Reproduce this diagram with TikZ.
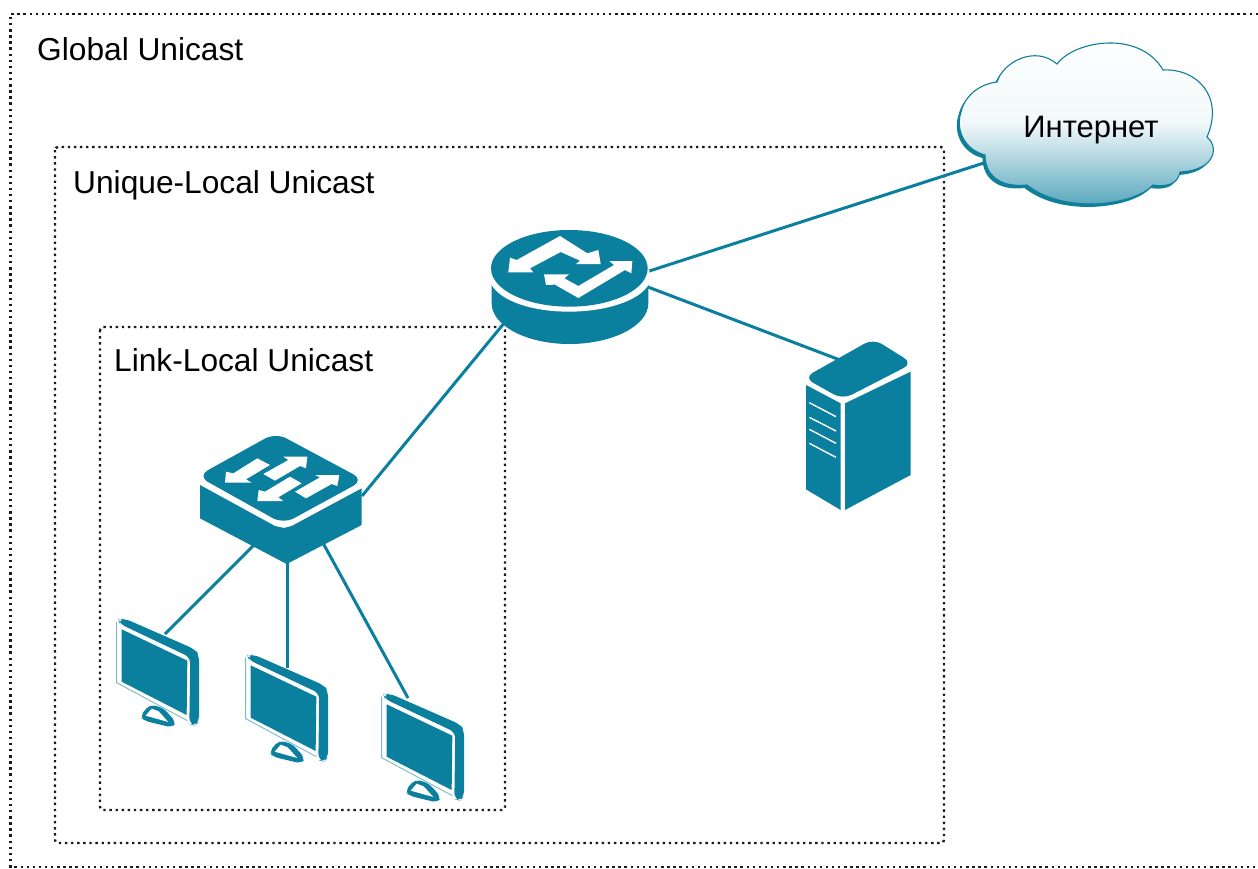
\documentclass[tikz,border=0pt]{standalone}
\usepackage{fontspec}
\setmainfont{Liberation Sans}
\definecolor{teal1}{HTML}{0A7F9E}
\definecolor{tealdark}{HTML}{0F7F9A}
\definecolor{frameink}{HTML}{1A1A1A}
\tikzset{
 x=1pt,y=-1pt,
 zone/.style={draw=frameink,line width=2.4pt,dash pattern=on 2.4pt off 3.7pt},
 zonelabel/.style={anchor=base west,font=\fontsize{31.7}{34}\selectfont,inner sep=0pt,text=black},
 link/.style={draw=teal1,line width=3pt},
 body/.style={fill=teal1,draw=none},
 warrow/.style={fill=white,draw=none},
 zoomed/.style={shift={(#1)},scale=0.33333},
 pics/monitor/.style={code={
  \begin{scope}[scale=0.33333]
  \fill[teal1,rounded corners=6pt] (55,28)--(75,26)--(285,118)--(297,135)--(297,335)--(285,347)--(268,342)--(271,142)--(60,42)--cycle;
  \draw[teal1!55,line width=.9pt] (50,35)--(50,218)--(262,332);
  \fill[teal1] (65,58)--(262,152)--(260,315)--(65,215)--cycle;
  \fill[teal1,rounded corners=5pt] (150,283)--(120,318)--(132,332)--(218,353)--(228,336)--(190,294)--cycle;
  \fill[white] (137,317)--(155,296)--(176,304)--(205,336)--cycle;
  \end{scope}
 }}
}
\begin{document}
\begin{tikzpicture}
\useasboundingbox (0,0) rectangle (1258,868);
\clip (0,0) rectangle (1258,868);
\fill[white] (0,0) rectangle (1258,868);
\coordinate (zoneAne) at (1258,14);
\coordinate (zoneAnw) at (10.5,14);
\coordinate (zoneAsw) at (10.5,867);
\coordinate (zoneAse) at (1258,867);
\draw[zone] (zoneAne)--(zoneAnw)--(zoneAsw)--(zoneAse);
\draw[zone,rounded corners=3pt] (55,147) rectangle (944,843);
\draw[zone,rounded corners=3pt] (100,327) rectangle (505,810);
\node[zonelabel] (lblA) at (37,60) {Global Unicast};
\node[zonelabel] (lblB) at (73,193) {Unique-Local Unicast};
\node[zonelabel] (lblC) at (114,371) {Link-Local Unicast};
% connector ends
\coordinate (routerA) at (640,274);
\coordinate (routerB) at (640,284);
\coordinate (routerC) at (505,322);
\coordinate (cloudA) at (990,161);
\coordinate (serverA) at (840,360);
\coordinate (switchA) at (362,496);
\coordinate (switchB) at (256,543);
\coordinate (switchC) at (287,560);
\coordinate (switchD) at (323,543);
\coordinate (m1) at (165,634);
\coordinate (m2) at (287,668);
\coordinate (m3) at (408,698);
\draw[link] (routerA)--(cloudA);
\draw[link] (routerB)--(serverA);
\draw[link] (routerC)--(switchA);
\draw[link] (switchB)--(m1);
\draw[link] (switchC)--(m2);
\draw[link] (switchD)--(m3);
% cloud: shadow
\path[fill=tealdark,shift={(-2.5,3)}] (985,155) .. controls (965,150) and (955,130) .. (961,112) .. controls (965,95) and (980,84) .. (997,82) .. controls (1003,62) and (1035,45) .. (1057,64) .. controls (1075,40) and (1140,30) .. (1163,70) .. controls (1195,68) and (1225,95) .. (1207,137) .. controls (1218,145) and (1218,170) .. (1180,172) .. controls (1178,185) and (1165,187) .. (1153,185) .. controls (1135,205) and (1065,215) .. (1027,185) .. controls (1000,188) and (985,175) .. (985,155) -- cycle;
\path[draw=tealdark,line width=1.1pt,top color=white,bottom color=teal1!75!white,middle color=teal1!5!white] (985,155) .. controls (965,150) and (955,130) .. (961,112) .. controls (965,95) and (980,84) .. (997,82) .. controls (1003,62) and (1035,45) .. (1057,64) .. controls (1075,40) and (1140,30) .. (1163,70) .. controls (1195,68) and (1225,95) .. (1207,137) .. controls (1218,145) and (1218,170) .. (1180,172) .. controls (1178,185) and (1165,187) .. (1153,185) .. controls (1135,205) and (1065,215) .. (1027,185) .. controls (1000,188) and (985,175) .. (985,155) -- cycle;
\node[font=\fontsize{31}{34}\selectfont,inner sep=0pt,anchor=base] (cloudlbl) at (1091,137) {Интернет};
% router
\begin{scope}[zoomed={470,220}]
\fill[body] (65,185)--(65,250) .. controls (65,317) and (170,372) .. (298,372) .. controls (428,372) and (535,317) .. (535,250)--(535,185)--cycle;
\fill[white] (62,150)--(62,190) .. controls (90,245) and (190,275) .. (298,275) .. controls (400,275) and (510,245) .. (538,190)--(538,150)--cycle;
\fill[body] (298,145) ellipse[x radius=235,y radius=115];
\fill[warrow] (115,157)--(120,113)--(140,120)--(270,48)--(352,100)--(385,90)--(392,132)--(318,132)--(330,122)--(272,96)--(180,145)--(190,157)--cycle;
\fill[warrow] (487,123)--(484,160)--(465,150)--(325,234)--(255,194)--(228,195)--(222,163)--(297,163)--(283,175)--(325,198)--(432,135)--(418,123)--cycle;
\end{scope}
% switch
\begin{scope}[zoomed={180,420}]
\fill[body] (60,195)--(60,295)--(320,432)--(545,315)--(545,205)--(335,318)--(312,324)--(285,318)--cycle;
\fill[body,rounded corners=12pt] (287,38)--(552,180)--(310,312)--(52,168)--cycle;
\fill[warrow] (135,188)--(138,155)--(160,160)--(232,115)--(270,135)--(198,178)--(215,188)--cycle;
\fill[warrow] (382,110)--(378,145)--(360,138)--(285,182)--(250,162)--(325,120)--(310,110)--cycle;
\fill[warrow] (232,243)--(236,210)--(255,215)--(330,170)--(365,190)--(295,232)--(310,243)--cycle;
\fill[warrow] (478,165)--(472,198)--(455,192)--(378,235)--(345,215)--(420,172)--(405,165)--cycle;
\end{scope}
% server
\begin{scope}[zoomed={780,330}]
\fill[body] (78,165)--(78,478)--(182,540)--(182,220)--cycle;
\fill[body] (195,220)--(392,125)--(392,435)--(195,540)--cycle;
\fill[body,rounded corners=10pt] (280,26)--(398,100)--(188,208)--(72,143)--cycle;
\foreach \ya/\yb in {218/260,262/303,298/340,340/382}{\draw[draw=white,line width=1.4pt] (88,\ya)--(168,\yb);}
\end{scope}
% monitors
\pic (monA) at (100,610) {monitor};
\pic (monB) at (229,646) {monitor};
\pic (monC) at (365,685) {monitor};
\end{tikzpicture}
\end{document}
